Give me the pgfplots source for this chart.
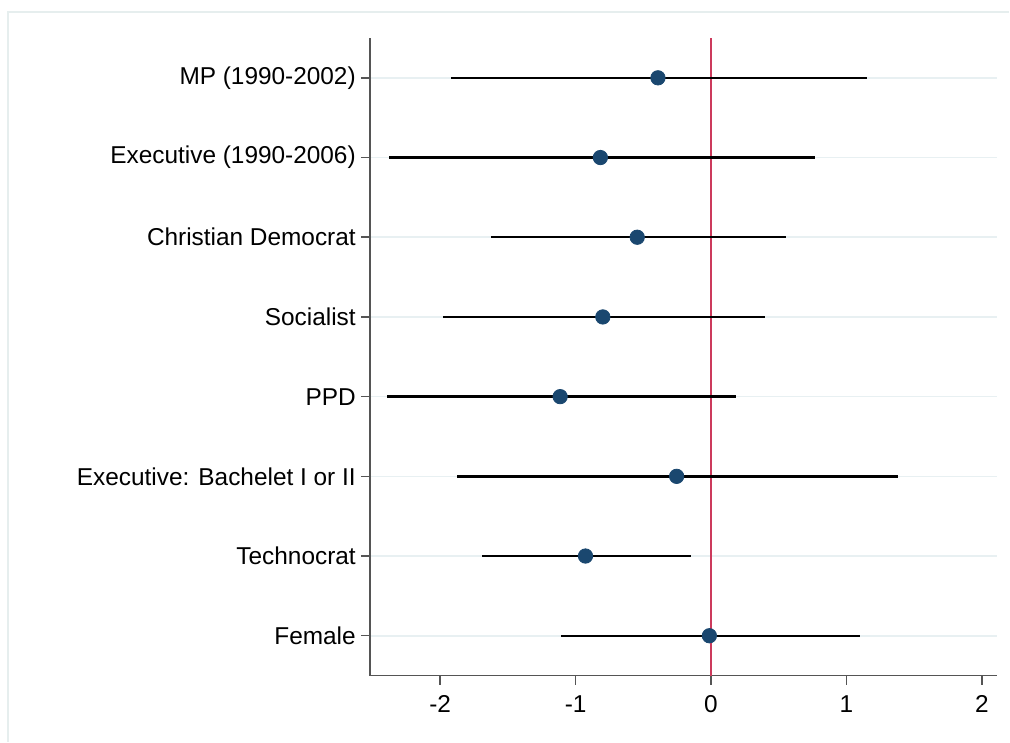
\documentclass[border=0pt]{standalone}
\usepackage{fontspec}
\setmainfont{Liberation Sans}
\usepackage{pgfplots}
\pgfplotsset{compat=1.18}
\usepackage{pgfplotstable}
\definecolor{navy}{HTML}{1A476F}
\definecolor{refred}{HTML}{CC3A5C}
\definecolor{gridc}{HTML}{E8F0F2}
\definecolor{axc}{HTML}{555555}
\definecolor{framec}{HTML}{E6EEEE}

% row est lo hi
\pgfplotstableread{
row est lo hi
8 -0.392 -1.919 1.154
7 -0.817 -2.378 0.768
6 -0.545 -1.625 0.551
5 -0.799 -1.980 0.401
4 -1.114 -2.396 0.181
3 -0.254 -1.876 1.380
2 -0.927 -1.689 -0.150
1 -0.012 -1.108 1.102
}\coefs

\begin{document}
\begin{tikzpicture}
\begin{axis}[
  scale only axis,
  width=314pt, height=319pt,
  xmin=-2.52, xmax=2.115,
  ymin=0.5, ymax=8.5,
  axis x line*=bottom, axis y line*=left,
  axis line style={-, draw=axc, line width=0.75pt},
  xtick={-2,-1,0,1,2},
  ytick={1,2,3,4,5,6,7,8},
  yticklabels={Female,Technocrat,{Executive: Bachelet I or II},PPD,Socialist,Christian Democrat,{Executive (1990-2006)},{MP (1990-2002)}},
  tick align=outside,
  major tick length=4.5pt,
  tick style={draw=axc, line width=0.75pt},
  ymajorgrids, xmajorgrids=false,
  grid style={gridc, line width=0.8pt},
  ticklabel style={font=\fontsize{12.2}{14}\selectfont, text=black},
  /pgf/number format/assume math mode=true,
  yticklabel style={xshift=1pt},
  xticklabel style={yshift=-2pt},
  clip=false,
]
\addplot[refred, line width=1pt] coordinates {(0,0.5) (0,8.5)};
\addplot[draw=none, mark=none,
  error bars/.cd, x dir=both, x explicit, error mark=none,
  error bar style={black, line width=1.2pt}]
  table[x=est, y=row,
    x error plus expr=\thisrow{hi}-\thisrow{est},
    x error minus expr=\thisrow{est}-\thisrow{lo}] {\coefs};
\addplot[only marks, mark=*, mark size=3.6pt, mark options={fill=navy, draw=navy}]
  table[x=est, y=row] {\coefs};
\end{axis}
\pgfresetboundingbox
\path (current axis.south west) ++(-185pt,-33pt) coordinate (BL);
\path (current axis.north east) ++(6pt,19pt) coordinate (TR);
\path (BL) rectangle (TR);
\path (BL) ++(4pt,0pt) coordinate (FL);
\path (TR) ++(0pt,-6pt) coordinate (FT);
\draw[framec, line width=0.6pt] (FL) |- (FT);
\end{tikzpicture}
\end{document}
